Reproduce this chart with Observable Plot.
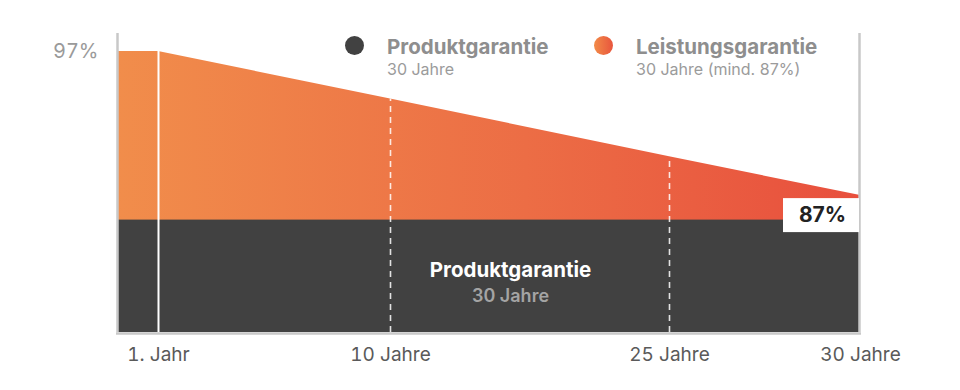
<!DOCTYPE html>
<html lang="de">
<head>
<meta charset="utf-8">
<script src="https://cdn.jsdelivr.net/npm/d3@7"></script>
<script src="https://cdn.jsdelivr.net/npm/@observablehq/plot@0.6"></script>
<style>
  html, body { margin: 0; padding: 0; background: #ffffff; }
  #wrap { position: relative; width: 960px; height: 390px; font-family: Inter, "Noto Sans", sans-serif; }
  #chart { position: absolute; left: 0; top: 0; }
  .lg-dot { position: absolute; width: 19px; height: 19px; border-radius: 50%; }
  .lg-title { position: absolute; font-size: 20.5px; line-height: 21px; font-weight: 700; color: #8e8e8e; white-space: nowrap; }
  .lg-sub { position: absolute; font-size: 16px; line-height: 16px; font-weight: 400; color: #9b9b9b; white-space: nowrap; }
</style>
</head>
<body>
<div id="wrap">
  <div id="chart"></div>
  <div id="legend"></div>
</div>
<script>
// ---- data ----
const years = [0, 1, 10, 25, 30];              // x positions (years)
const leistungValues = [97, 97, 93.7, 89.7, 87]; // Leistungsgarantie (%)
const tickYears = [1, 10, 25, 30];
const tickLabels = ["1. Jahr", "10 Jahre", "25 Jahre", "30 Jahre"];
const yTicks = [97];
const solidMarkerYears = [1];
const dashedMarkerYears = [10, 25];
const produktLevel = 85.3;    // schematic top of the Produktgarantie band
const yMin = 77.5, yMax = 98.25;
const endValue = 87;
const endYear = 30;
const endLabel = "87%";
const legendItems = ["Produktgarantie", "Leistungsgarantie"];
const legendSubs = ["30 Jahre", "30 Jahre (mind. 87%)"];
const blockTitle = "Produktgarantie";
const blockSub = "30 Jahre";

// ---- derived tables ----
const perf = years.map((y, i) => ({year: y, value: leistungValues[i]}));
const valueAt = new Map(perf.map(d => [d.year, d.value]));
const labelAt = new Map(tickYears.map((y, i) => [y, tickLabels[i]]));
const solidMarkers = solidMarkerYears.map(y => ({year: y, value: valueAt.get(y)}));
const dashedMarkers = dashedMarkerYears.map(y => ({year: y, value: valueAt.get(y)}));
const block = [{x1: years[0], x2: endYear, y1: yMin, y2: produktLevel}];
const blockMid = (yMin + produktLevel) / 2;

const gradientDefs = () => {
  const defs = d3.create("svg:defs");
  const g = defs.append("linearGradient").attr("id", "leistungGrad")
    .attr("x1", "0").attr("x2", "1").attr("y1", "0").attr("y2", "0");
  g.append("stop").attr("offset", "0%").attr("stop-color", "#f18d4b");
  g.append("stop").attr("offset", "55%").attr("stop-color", "#ec6d45");
  g.append("stop").attr("offset", "100%").attr("stop-color", "#e84f3d");
  return defs.node();
};

const chart = Plot.plot({
  width: 960,
  height: 390,
  marginLeft: 118,
  marginRight: 100,
  marginTop: 33,
  marginBottom: 58,
  style: {fontFamily: "Inter, 'Noto Sans', sans-serif", background: "transparent", overflow: "visible"},
  x: {type: "linear", domain: [0, 1, 10, 25, 30], range: [118, 158, 390, 669, 860]},
  y: {domain: [yMin, yMax]},
  marks: [
    gradientDefs,
    Plot.areaY(perf, {x: "year", y1: () => yMin, y2: "value", fill: "url(#leistungGrad)"}),
    Plot.rect(block, {x1: "x1", x2: "x2", y1: "y1", y2: "y2", fill: "#414141"}),
    Plot.ruleX(solidMarkers, {x: "year", y1: () => yMin, y2: "value", stroke: "#ffffff", strokeWidth: 2}),
    Plot.ruleX(dashedMarkers, {x: "year", y1: () => yMin, y2: "value", stroke: "#ffffff", strokeOpacity: 0.85, strokeWidth: 1.6, strokeDasharray: "6,5"}),
    Plot.ruleX([years[0], endYear], {y1: yMin, y2: yMax, stroke: "#c8c8c8", strokeWidth: 2.5, dx: -1}),
    Plot.ruleY([yMin], {x1: years[0], x2: endYear, stroke: "#c8c8c8", strokeWidth: 2.5, dy: 1, insetLeft: -2, insetRight: -1}),
    Plot.rect([{x: endYear, y: endValue}], {x1: "x", x2: "x", y1: "y", y2: "y", fill: "#ffffff", insetLeft: -77, insetRight: 1, insetTop: 3, insetBottom: -37}),
    Plot.text([{x: endYear, y: endValue}], {x: "x", y: "y", text: () => endLabel, dx: -38, dy: 20, fontSize: 21, fontWeight: 700, fill: "#222222"}),
    Plot.text([blockTitle], {y: () => blockMid, text: d => d, frameAnchor: "middle", dx: 21, dy: -6, fontSize: 20.5, fontWeight: 700, fill: "#ffffff"}),
    Plot.text([blockSub], {y: () => blockMid, text: d => d, frameAnchor: "middle", dx: 21, dy: 20, fontSize: 18, fontWeight: 600, fill: "#a4a4a4"}),
    Plot.axisX(tickYears, {tickFormat: d => labelAt.get(d), tickSize: 0, tickPadding: 15, fontSize: 19, color: "#5a5a5a", label: null}),
    Plot.axisY(yTicks, {tickFormat: d => d + "%", tickSize: 0, tickPadding: 20, fontSize: 20, color: "#9a9a9a", label: null})
  ]
});
document.getElementById("chart").appendChild(chart);

// ---- legend ----
const legend = document.getElementById("legend");
const legendSwatches = ["#414141", "linear-gradient(to right, #f28b48, #e8553d)"];
const legendLeft = [345, 594];
legendItems.forEach((name, i) => {
  const dot = document.createElement("div");
  dot.className = "lg-dot";
  dot.style.left = legendLeft[i] + "px";
  dot.style.top = "36px";
  dot.style.background = legendSwatches[i];
  legend.appendChild(dot);
  const t = document.createElement("div");
  t.className = "lg-title";
  t.style.left = (legendLeft[i] + 42) + "px";
  t.style.top = "36px";
  t.textContent = name;
  legend.appendChild(t);
  const s = document.createElement("div");
  s.className = "lg-sub";
  s.style.left = (legendLeft[i] + 42) + "px";
  s.style.top = "61px";
  s.textContent = legendSubs[i];
  legend.appendChild(s);
});
</script>
</body>
</html>
